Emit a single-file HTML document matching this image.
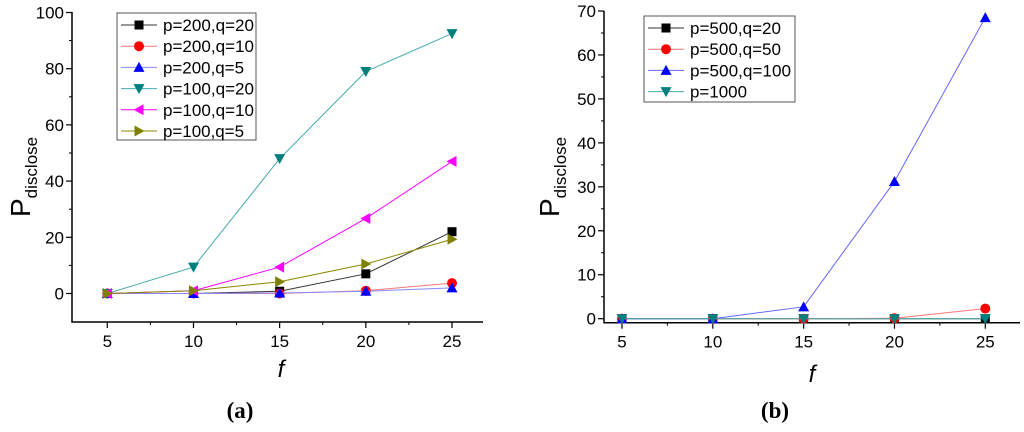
<!DOCTYPE html>
<html><head><meta charset="utf-8"><style>
body{margin:0;background:#fff;width:1024px;height:427px;overflow:hidden}
svg text{font-family:"Liberation Sans",Arial,sans-serif}
</style></head><body>
<svg id="svg" width="1024" height="427" xmlns="http://www.w3.org/2000/svg"></svg>
<script>
const xCats=[5,10,15,20,25];
const aNames=["p=200,q=20","p=200,q=10","p=200,q=5","p=100,q=20","p=100,q=10","p=100,q=5"];
const a1=[0,0,0.8,7,22];
const a2=[0,0,0,1,3.7];
const a3=[0,0,0.2,0.8,2];
const a4=[0,9.4,48,79,92.5];
const a5=[0,1,9.4,26.7,47];
const a6=[0,1,4.2,10.5,19.3];
const aTicks=[0,20,40,60,80,100];
const bNames=["p=500,q=20","p=500,q=50","p=500,q=100","p=1000"];
const b1=[0,0,0,0,0];
const b2=[0,0,0,0.1,2.3];
const b3=[0,0,2.7,31.2,68.5];
const b4=[0,0,0,0,0];
const bTicks=[0,10,20,30,40,50,60,70];

const NS="http://www.w3.org/2000/svg";
const svg=document.getElementById('svg');
function mk(tag,attrs,parent){const e=document.createElementNS(NS,tag);for(const k in attrs)e.setAttribute(k,attrs[k]);(parent||svg).appendChild(e);return e;}
function marker(g,shape,x,y,c){
  const s=4.5;let e;
  if(shape==='sq')e=mk('rect',{x:x-s,y:y-s,width:2*s,height:2*s,fill:c},g);
  else if(shape==='ci')e=mk('circle',{cx:x,cy:y,r:s+0.5,fill:c},g);
  else{let p;
    if(shape==='up')p=[[x,y-s-1],[x+s+1,y+s],[x-s-1,y+s]];
    if(shape==='dn')p=[[x,y+s+1],[x+s+1,y-s],[x-s-1,y-s]];
    if(shape==='lt')p=[[x-s-1,y],[x+s,y-s-1],[x+s,y+s+1]];
    if(shape==='rt')p=[[x+s+1,y],[x-s,y-s-1],[x-s,y+s+1]];
    e=mk('polygon',{points:p.map(q=>q.join(',')).join(' '),fill:c},g);}
  
  
}
function chart(o){
  const g=mk('g',{});
  
  
  const X=v=>o.x5+(v-5)*(o.x25-o.x5)/20;
  const Y=v=>o.y0+(v)*(o.yTop-o.y0)/o.ymax;
  const ax=mk('path',{d:`M${o.ax},${o.axTop} V${o.axBot} H${o.axRight}`,stroke:'#000','stroke-width':1.5,fill:'none'},g);
  
  o.ticks.forEach((t,i)=>{
    const y=Y(t);
    mk('line',{x1:o.ax-6,x2:o.ax,y1:y,y2:y,stroke:'#000','stroke-width':1.2},g);
    const tx=mk('text',{x:o.ax-8,y:y+6,'font-size':17,'text-anchor':'end'},g);tx.textContent=t;
    
    if(i<o.ticks.length-1){const ym=Y(t+(o.ticks[1]-o.ticks[0])/2);mk('line',{x1:o.ax-3,x2:o.ax,y1:ym,y2:ym,stroke:'#000'},g);}
  });
  xCats.forEach((c,i)=>{
    const x=X(c);
    mk('line',{x1:x,x2:x,y1:o.axBot,y2:o.axBot+6,stroke:'#000','stroke-width':1.2},g);
    const tx=mk('text',{x:x,y:o.axBot+25,'font-size':17,'text-anchor':'middle'},g);tx.textContent=c;
    
    if(i<xCats.length-1){const xm=X(c+2.5);mk('line',{x1:xm,x2:xm,y1:o.axBot,y2:o.axBot+3,stroke:'#000'},g);}
  });
  o.series.forEach((s,i)=>{
    const pts=s.v.map((v,j)=>[X(xCats[j]),Y(v)]);
    const pl=mk('polyline',{points:pts.map(p=>p.join(',')).join(' '),stroke:s.lc,'stroke-width':1,fill:'none'},g);
    
    pts.forEach(p=>marker(g,s.m,p[0],p[1],s.c));
  });
  const lg=mk('g',{},g);
  
  mk('rect',{x:o.lx,y:o.ly,width:o.lw,height:o.lh,fill:'#fff',stroke:'#555','stroke-width':1},lg);
  o.series.forEach((s,i)=>{
    const y=o.ly+12+i*21.2;
    const en=mk('g',{},lg);
    
    mk('line',{x1:o.lx+4,x2:o.lx+40,y1:y,y2:y,stroke:s.lc},en);
    marker(en,s.m,o.lx+22,y,s.c);
    const t=mk('text',{x:o.lx+46,y:y+6,'font-size':17,textLength:o.tl[i],lengthAdjust:'spacingAndGlyphs'},en);t.textContent=s.n;
  });
  const yl=mk('text',{transform:`translate(${o.ylx},${o.yly}) rotate(-90)`,'font-size':28},g);
  yl.innerHTML='P<tspan font-size="17" dy="7">disclose</tspan>';
  
  const xl=mk('text',{x:o.xlx,y:o.xly,'font-size':24,'font-style':'italic','text-anchor':'middle'},g);xl.textContent='f';
  
  const cap=mk('text',{x:o.capx,y:418,'font-size':23,'font-weight':'bold','text-anchor':'middle',style:'font-family:"Liberation Serif",serif'},g);
  cap.innerHTML='(<tspan>'+o.cap+'</tspan>)';
  
}
chart({name:'chart-a',x5:107.3,x25:452,y0:293.5,yTop:12.5,ymax:100,ax:72,axTop:12,axBot:322,axRight:483,ticks:aTicks,
  series:[{n:aNames[0],v:a1,c:'#000',lc:'#333',m:'sq'},{n:aNames[1],v:a2,c:'#f00',lc:'#f77',m:'ci'},{n:aNames[2],v:a3,c:'#00f',lc:'#88f',m:'up'},
  {n:aNames[3],v:a4,c:'#007f7f',lc:'#4aa',m:'dn'},{n:aNames[4],v:a5,c:'#f0f',lc:'#f0f',m:'lt'},{n:aNames[5],v:a6,c:'#7f7f00',lc:'#880',m:'rt'}],
  tl:[91,91,81,91,91,81],
  lx:117,ly:13,lw:139,lh:127,ylx:30,yly:217,xlx:281,xly:377,capx:240,cap:'a'});
chart({name:'chart-b',x5:622,x25:985.3,y0:318.7,yTop:11,ymax:70,ax:604,axTop:11,axBot:322.7,axRight:1020,ticks:bTicks,
  series:[{n:bNames[0],v:b1,c:'#000',lc:'#333',m:'sq'},{n:bNames[1],v:b2,c:'#f00',lc:'#f77',m:'ci'},{n:bNames[2],v:b3,c:'#00f',lc:'#66f',m:'up'},{n:bNames[3],v:b4,c:'#007f7f',lc:'#4aa',m:'dn'}],
  tl:[91,91,101,57],
  lx:644,ly:16,lw:151,lh:86,ylx:559,yly:217,xlx:812,xly:382,capx:775,cap:'b'});
</script>
</body></html>
